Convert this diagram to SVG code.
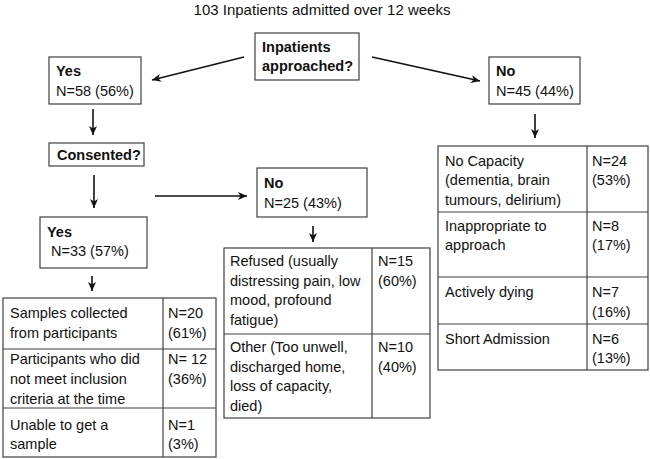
<svg xmlns="http://www.w3.org/2000/svg" width="650" height="459" viewBox="0 0 650 459">
<style>
text{font-family:"Liberation Sans",Arial,sans-serif;font-size:14.5px;fill:#111}
.b{font-weight:bold}
.box{fill:#fff;stroke:#404040;stroke-width:1.2}
.ln{stroke:#404040;stroke-width:1.2;fill:none}
.ar{stroke:#111;stroke-width:1.6;fill:none;marker-end:url(#ah)}
</style>
<defs>
<marker id="ah" markerUnits="userSpaceOnUse" markerWidth="10" markerHeight="8" refX="9" refY="4" orient="auto">
<path d="M0,0 L9,4 L0,8 L2.5,4 Z" fill="#111"/>
</marker>
</defs>
<rect width="650" height="459" fill="#fff"/>
<text id="title" x="322" y="15" text-anchor="middle" style="font-size:15px">103 Inpatients admitted over 12 weeks</text>

<g id="connectors">
<line class="ar" x1="244" y1="57" x2="152" y2="80"/>
<line class="ar" x1="372" y1="57" x2="480" y2="81"/>
<line class="ar" x1="93" y1="109" x2="93" y2="135"/>
<line class="ar" x1="535" y1="114" x2="535" y2="138"/>
<line class="ar" x1="94" y1="175" x2="94" y2="208"/>
<line class="ar" x1="155" y1="196" x2="247" y2="196"/>
<line class="ar" x1="313" y1="226" x2="313" y2="242"/>
<line class="ar" x1="92" y1="276" x2="92" y2="291"/>
</g>

<g id="approached">
<rect class="box" x="255" y="33" width="104" height="47"/>
<text class="b" x="262" y="52">Inpatients</text>
<text class="b" x="262" y="71">approached?</text>
</g>

<g id="yes1">
<rect class="box" x="49" y="57" width="92" height="47"/>
<text class="b" x="56" y="76">Yes</text>
<text x="56" y="96">N=58 (56%)</text>
</g>

<g id="no1">
<rect class="box" x="489" y="57" width="91" height="47"/>
<text class="b" x="496" y="76">No</text>
<text x="496" y="96">N=45 (44%)</text>
</g>

<g id="consented">
<rect class="box" x="49" y="143" width="95" height="23"/>
<text class="b" x="57" y="160">Consented?</text>
</g>

<g id="yes2">
<rect class="box" x="40" y="217" width="107" height="51"/>
<text class="b" x="47" y="237">Yes</text>
<text x="51" y="256">N=33 (57%)</text>
</g>

<g id="no2">
<rect class="box" x="257" y="168" width="110" height="49"/>
<text class="b" x="264" y="188">No</text>
<text x="264" y="208">N=25 (43%)</text>
</g>

<g id="table-consented">
<rect class="box" x="3" y="298" width="213" height="159"/>
<line class="ln" x1="163" y1="298" x2="163" y2="457"/>
<line class="ln" x1="3" y1="349" x2="216" y2="349"/>
<line class="ln" x1="3" y1="408" x2="216" y2="408"/>
<text x="10" y="318">Samples collected</text>
<text x="10" y="338">from participants</text>
<text x="168" y="318">N=20</text>
<text x="168" y="338">(61%)</text>
<text x="10" y="364">Participants who did</text>
<text x="10" y="384">not meet inclusion</text>
<text x="10" y="404">criteria at the time</text>
<text x="168" y="364">N= 12</text>
<text x="168" y="384">(36%)</text>
<text x="10" y="430">Unable to get a</text>
<text x="10" y="449">sample</text>
<text x="168" y="430">N=1</text>
<text x="168" y="449">(3%)</text>
</g>

<g id="table-refused">
<rect class="box" x="224" y="248" width="206" height="170"/>
<line class="ln" x1="372" y1="248" x2="372" y2="418"/>
<line class="ln" x1="224" y1="334" x2="430" y2="334"/>
<text x="230" y="266">Refused (usually</text>
<text x="230" y="285.5">distressing pain, low</text>
<text x="230" y="305">mood, profound</text>
<text x="230" y="324.5">fatigue)</text>
<text x="378" y="266">N=15</text>
<text x="378" y="285.5">(60%)</text>
<text x="230" y="352">Other (Too unwell,</text>
<text x="230" y="371.5">discharged home,</text>
<text x="230" y="391">loss of capacity,</text>
<text x="230" y="410.5">died)</text>
<text x="378" y="352">N=10</text>
<text x="378" y="371.5">(40%)</text>
</g>

<g id="table-not-approached">
<rect class="box" x="438" y="146" width="210" height="224"/>
<line class="ln" x1="587" y1="146" x2="587" y2="370"/>
<line class="ln" x1="438" y1="212" x2="648" y2="212"/>
<line class="ln" x1="438" y1="277" x2="648" y2="277"/>
<line class="ln" x1="438" y1="324" x2="648" y2="324"/>
<text x="445" y="166">No Capacity</text>
<text x="445" y="185">(dementia, brain</text>
<text x="445" y="205">tumours, delirium)</text>
<text x="592" y="166">N=24</text>
<text x="592" y="185">(53%)</text>
<text x="445" y="231">Inappropriate to</text>
<text x="445" y="250">approach</text>
<text x="592" y="231">N=8</text>
<text x="592" y="250">(17%)</text>
<text x="445" y="297">Actively dying</text>
<text x="592" y="297">N=7</text>
<text x="592" y="317">(16%)</text>
<text x="445" y="344">Short Admission</text>
<text x="592" y="344">N=6</text>
<text x="592" y="363">(13%)</text>
</g>
</svg>
